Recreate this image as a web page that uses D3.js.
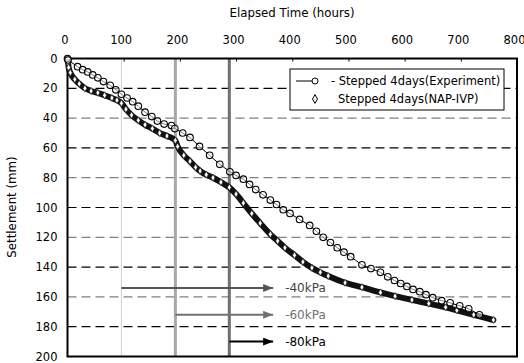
<!DOCTYPE html>
<html><head><meta charset="utf-8">
<script src="https://cdn.jsdelivr.net/npm/d3@7"></script>
<style>body{margin:0;background:#fff}svg{display:block}text{font-family:"DejaVu Sans",sans-serif;}</style>
</head><body>
<svg id="c" width="524" height="363"></svg>
<script>
// ---- data ----
const xTicks = [0,100,200,300,400,500,600,700,800];
const yTicks = [0,20,40,60,80,100,120,140,160,180,200];
const expTime = [0,1,18,27,36,45,54,64,76,86,96,106,116,126,138,150,160,172,185,191,205,218,235,253,271,289,300,313,324,335,348,361,372,384,396,413,431,443,455,468,480,492,504,524,540,557,570,582,593,604,615,627,638,650,666,681,698,714,733];
const expSettle = [0,1,5.5,7.5,9,11,13,15.5,18,21,24,26.5,29,32,36,39,42,44,45,47,50,53,59,65,71,76,78.5,81,84.5,88,91.5,95,98,101.5,104,108,112,116,120,123.5,127,130,133,138.5,141,143.5,146.5,149,151,153,155,156.5,158.5,160.5,162.5,164,166,168,172];
const napTime = [0,1,2,5,13,21,31,42,54,66,79,88,96,104,114,126,138,151,164,177,192,196,207,218,228,236,247,259,273,288,300,313,328,343,361,374,387,404,419,435,450,464,494,524,557,583,613,643,673,693,723,758];
const napSettle = [0,3,6,9.5,14,17,20,21.8,23,24.7,26.5,28,30,34,38,41.5,44.5,47,50,52,55,59,65,69,73,75.5,78,80,83,86.5,91,97,104,110.5,118,122.5,127,132,136.5,140.5,143.5,146,150.5,153.5,157,159.5,162,164.5,167,169,172,175.5];
const stepTimes = [96,192,288];
const loadLabels = ["-40kPa","-60kPa","-80kPa"];
const loadLevels = [154,172,190];
const arrowEnd = 366;
const legendLabels = ["- Stepped 4days(Experiment)","Stepped 4days(NAP-IVP)"];

// ---- layout ----
const svg = d3.select("#c");
const L=67.5, R=517, T=58.5, B=356.5;
const x = d3.scaleLinear().domain([0,800]).range([L,R]);
const y = d3.scaleLinear().domain([0,200]).range([T,B]);

// gridlines
svg.append("g").selectAll("line").data(yTicks.filter(d=>d>0&&d<200)).join("line")
  .attr("x1",L).attr("x2",R).attr("y1",d=>y(d)).attr("y2",d=>y(d))
  .attr("stroke",(d,i)=>i%2===0?"#000":"#808080").attr("stroke-width",1.2)
  .attr("stroke-dasharray","9,5");

// vertical step lines
const vStyles=[{c:"#b0b0b0",w:1.2,da:"1,1"},{c:"#a8a8a8",w:3,da:null},{c:"#707070",w:3,da:null}];
svg.append("g").selectAll("line").data(stepTimes).join("line")
  .attr("x1",d=>x(d)).attr("x2",d=>x(d)).attr("y1",T).attr("y2",B)
  .attr("stroke",(d,i)=>vStyles[i].c).attr("stroke-width",(d,i)=>vStyles[i].w)
  .attr("stroke-dasharray",(d,i)=>vStyles[i].da);

// axes
const xAxis = svg.append("g").attr("transform",`translate(0,${T})`)
  .call(d3.axisTop(x).tickValues(xTicks).tickSize(-3).tickPadding(15));
xAxis.select(".domain").remove();
xAxis.selectAll("line").attr("stroke","#000");
xAxis.selectAll("text").attr("font-size",11.5).attr("fill","#000").attr("font-family","DejaVu Sans").attr("dx",-3);
const yAxis = svg.append("g").attr("transform",`translate(${L},0)`)
  .call(d3.axisLeft(y).tickValues(yTicks).tickSize(0).tickPadding(10));
yAxis.select(".domain").remove();
yAxis.selectAll("text").attr("font-size",11.5).attr("fill","#000").attr("font-family","DejaVu Sans");

// frame
svg.append("rect").attr("x",L).attr("y",T).attr("width",R-L).attr("height",B-T)
  .attr("fill","none").attr("stroke","#000").attr("stroke-width",2);

// titles
svg.append("text").attr("x",292).attr("y",17).attr("text-anchor","middle").attr("font-size",11.8).text("Elapsed Time (hours)");
svg.append("text").attr("transform","translate(16,207) rotate(-90)").attr("text-anchor","middle").attr("font-size",11.8).text("Settlement (mm)");

// arrows
const arrowCols=["#555","#707070","#000"];
const textCols=["#444","#707070","#000"];
const defs=svg.append("defs");
arrowCols.forEach((c,i)=>{
  defs.append("marker").attr("id","ah"+i).attr("viewBox","0 0 10 8").attr("refX",10).attr("refY",4)
    .attr("markerUnits","userSpaceOnUse").attr("markerWidth",10).attr("markerHeight",8).attr("orient","auto")
    .append("path").attr("d","M0,0L10,4L0,8Z").attr("fill",c);
});
const ag=svg.append("g");
stepTimes.forEach((t,i)=>{
  ag.append("line").attr("x1",x(t)).attr("x2",x(arrowEnd)).attr("y1",y(loadLevels[i])).attr("y2",y(loadLevels[i]))
    .attr("stroke",arrowCols[i]).attr("stroke-width",2).attr("marker-end",`url(#ah${i})`);
  ag.append("text").attr("x",x(arrowEnd)+12).attr("y",y(loadLevels[i])+4.5).attr("font-size",12)
    .attr("fill",textCols[i]).text(loadLabels[i]);
});

// NAP-IVP band
const nap = napTime.map((t,i)=>[t,napSettle[i]]);
const exp = expTime.map((t,i)=>[t,expSettle[i]]);
const line = d3.line().x(d=>x(d[0])).y(d=>y(d[1])).curve(d3.curveMonotoneX);
svg.append("path").datum(nap).attr("d",line).attr("fill","none").attr("stroke","#111").attr("stroke-width",6).attr("stroke-linecap","round");
const dia = d3.symbol().type(d3.symbolDiamond).size(14);
svg.append("g").selectAll("path").data(nap).join("path")
  .attr("transform",d=>`translate(${x(d[0])},${y(d[1])})`).attr("d",dia)
  .attr("fill","#fff").attr("stroke","#222").attr("stroke-width",0.8);

// Experiment
svg.append("path").datum(exp).attr("d",d3.line().x(d=>x(d[0])).y(d=>y(d[1]))).attr("fill","none").attr("stroke","#000").attr("stroke-width",1);
svg.append("g").selectAll("circle").data(exp).join("circle")
  .attr("cx",d=>x(d[0])).attr("cy",d=>y(d[1])).attr("r",3.3)
  .attr("fill","#fff").attr("fill-opacity",0.5).attr("stroke","#000").attr("stroke-width",1.1);

// legend
const lg=svg.append("g");
lg.append("rect").attr("x",290).attr("y",69).attr("width",214).attr("height",41).attr("fill","#fff").attr("stroke","#000").attr("stroke-width",1);
lg.append("line").attr("x1",296).attr("x2",316).attr("y1",81).attr("y2",81).attr("stroke","#000");
lg.append("circle").attr("cx",315).attr("cy",81).attr("r",3).attr("fill","#fff").attr("stroke","#000");
lg.append("path").attr("transform","translate(315,99)").attr("d",d3.symbol().type(d3.symbolDiamond).size(22)).attr("fill","#fff").attr("stroke","#000");
lg.append("text").attr("x",331).attr("y",85).attr("font-size",11.5).text(legendLabels[0]);
lg.append("text").attr("x",338).attr("y",103).attr("font-size",11.5).text(legendLabels[1]);
</script>
</body></html>
